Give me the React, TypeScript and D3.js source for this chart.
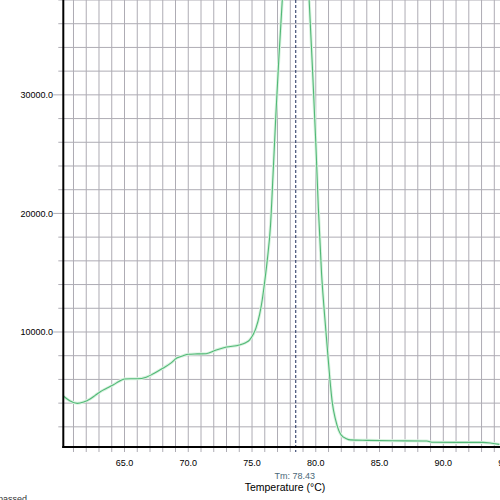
import * as d3 from "d3"

// melt curve readings (temperature in °C, fluorescence)
const temps = [
  60.2, 60.7, 61.3, 61.8, 62.3, 62.7, 63.1, 63.6, 64.1, 64.6, 65.0, 65.5, 66.0, 66.7, 67.3, 68.0, 68.6, 69.1, 69.6,
  70.0, 70.7, 71.4, 72.2, 73.0, 74.0, 74.5, 74.8, 75.1, 75.3, 75.6, 75.8, 76.0, 76.2, 76.45, 76.65, 76.87, 77.1, 77.4,
  77.8, 78.3, 78.8, 79.2, 79.48, 79.75, 80.0, 80.2, 80.45, 80.7, 80.9, 81.1, 81.3, 81.55, 81.8, 82.0, 82.4, 82.7, 84.0,
  86.0, 88.7, 89.2, 91.0, 93.1, 93.8, 94.4,
]
const fluorescence = [
  4600, 4200, 3980, 4100, 4350, 4650, 4960, 5250, 5530, 5850, 6030, 6050, 6050, 6180, 6500, 6940, 7350, 7800, 8000,
  8120, 8150, 8170, 8480, 8730, 8900, 9100, 9320, 9800, 10300, 11500, 12700, 14300, 16100, 19000, 23300, 28300, 33000,
  38500, 43500, 47000, 46500, 43000, 38000, 32000, 26000, 20500, 15000, 11300, 8700, 6100, 4000, 2600, 1700, 1300,
  1000, 900, 860, 830, 800, 700, 690, 690, 620, 520,
]
const xTicks = [65, 70, 75, 80, 85, 90, 95]
const yTicks = [10000, 20000, 30000]
const tm = 78.43

const xMinorTicks = d3.range(61, 95, 1)
const yMinorTicks = d3.range(2000, 38001, 2000)

export default function App() {
  const width = 500
  const height = 500
  const left = 63.3
  const bottom = 447

  const x = d3.scaleLinear().domain([65, 90]).range([124.5, 443.3])
  const y = d3.scaleLinear().domain([300, 38000]).range([bottom, 0])

  const points: [number, number][] = temps.map((t, i) => [t, fluorescence[i]])
  const line = d3
    .line<[number, number]>()
    .x((d) => x(d[0]))
    .y((d) => y(d[1]))
    .curve(d3.curveMonotoneX)

  const font = "'Liberation Sans', Arial, sans-serif"

  return (
    <svg
      width={width}
      height={height}
      style={{ position: "absolute", left: 0, top: 0, background: "#fff" }}
    >
      <defs>
        <clipPath id="plot">
          <rect x={left} y={0} width={width - left} height={bottom} />
        </clipPath>
      </defs>

      {/* grid */}
      {xMinorTicks.map((t) => (
        <line key={"gx" + t} x1={x(t)} x2={x(t)} y1={0} y2={bottom + 5} stroke="#aeacb4" strokeWidth={1} />
      ))}
      {yMinorTicks.map((v) => (
        <line
          key={"gy" + v}
          x1={yTicks.includes(v) ? left - 10 : left - 5}
          x2={width}
          y1={y(v)}
          y2={y(v)}
          stroke="#aeacb4"
          strokeWidth={1}
        />
      ))}

      {/* curve */}
      <g clipPath="url(#plot)">
        <path d={line(points) ?? ""} fill="none" stroke="#d8f2df" strokeWidth={3} />
        <path d={line(points) ?? ""} fill="none" stroke="#52b877" strokeWidth={1.1} />
      </g>

      {/* Tm marker */}
      <line
        x1={x(tm)}
        x2={x(tm)}
        y1={0}
        y2={bottom + 5}
        stroke="#1d2c5c"
        strokeWidth={1}
        strokeDasharray="3,2"
      />

      {/* axes */}
      <line x1={left} x2={left} y1={0} y2={bottom + 1} stroke="#000" strokeWidth={2} />
      <line x1={left - 1} x2={width} y1={bottom} y2={bottom} stroke="#000" strokeWidth={2} />

      {yTicks.map((v) => (
        <text
          key={"yl" + v}
          x={53}
          y={y(v)}
          dy="0.36em"
          textAnchor="end"
          fontFamily={font}
          fontSize={9}
          fill="#000"
        >
          {v.toFixed(1)}
        </text>
      ))}
      {xTicks.map((t) => (
        <text key={"xl" + t} x={x(t)} y={466} textAnchor="middle" fontFamily={font} fontSize={9} fill="#000">
          {t.toFixed(1)}
        </text>
      ))}

      <text x={x(tm) - 1} y={479} textAnchor="middle" fontFamily={font} fontSize={9} fill="#4a6878">
        Tm: {tm.toFixed(2)}
      </text>
      <text x={285} y={491} textAnchor="middle" fontFamily={font} fontSize={10.5} fill="#000">
        Temperature (°C)
      </text>
      <text x={-2} y={502} fontFamily={font} fontSize={9} fill="#333">
        passed
      </text>
    </svg>
  )
}
